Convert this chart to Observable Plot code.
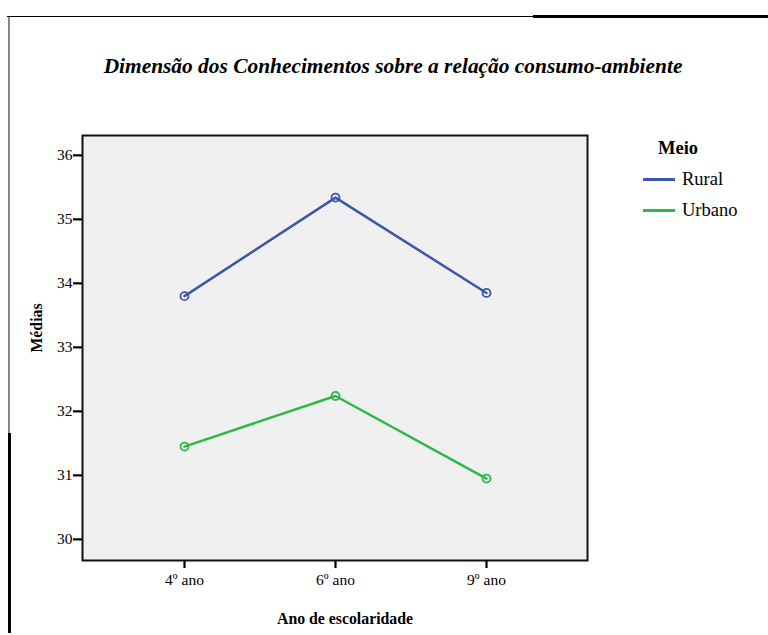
<!DOCTYPE html>
<html>
<head>
<meta charset="utf-8">
<script src="https://cdn.jsdelivr.net/npm/d3@7"></script>
<script src="https://cdn.jsdelivr.net/npm/@observablehq/plot@0.6"></script>
<style>
  html, body { margin: 0; padding: 0; background: #fff; }
  #wrap { position: relative; width: 768px; height: 635px; overflow: hidden; font-family: "Liberation Serif", "Times New Roman", serif; }
  #wrap svg text { font-family: "Liberation Serif", "Times New Roman", serif; }
  .abs { position: absolute; white-space: nowrap; color: #000; }
  .c { transform: translate(-50%, -50%); }
  #title { left: 393px; top: 66px; font-size: 21.4px; font-weight: bold; font-style: italic; }
  #xlabel { left: 345px; top: 619px; font-size: 15.8px; font-weight: bold; }
  #ylabel { left: 37px; top: 328px; font-size: 15.8px; font-weight: bold; transform: translate(-50%, -50%) rotate(-90deg); }
  #legtitle { left: 678px; top: 148px; font-size: 18.5px; font-weight: bold; }
  .legitem { left: 643px; height: 20px; }
  .legitem .sw { position: absolute; left: 0; top: 9px; width: 32px; height: 2.5px; }
  .legitem .lb { position: absolute; left: 39px; top: 0px; font-size: 18.5px; }
  #bl { position: absolute; left: 8px; top: 16px; width: 1.5px; height: 417px; background: #888; }
  #bl2 { position: absolute; left: 8px; top: 433px; width: 2.5px; height: 200px; background: #000; }
  #bt { position: absolute; left: 7px; top: 15.5px; width: 528px; height: 1.5px; background: #000; }
  #bt2 { position: absolute; left: 533px; top: 15px; width: 235px; height: 2.5px; background: #000; }
</style>
</head>
<body>
<div id="wrap"></div>
<script>
const years = ["4º ano", "6º ano", "9º ano"];
const rural = [33.80, 35.34, 33.85];
const urbano = [31.45, 32.24, 30.95];
const yTicks = [30, 31, 32, 33, 34, 35, 36];
const seriesNames = ["Rural", "Urbano"];
const seriesColors = ["#3d56a8", "#2fb84a"];

const data = [];
years.forEach((y, i) => {
  data.push({ano: y, meio: seriesNames[0], media: rural[i]});
  data.push({ano: y, meio: seriesNames[1], media: urbano[i]});
});

const chart = Plot.plot({
  width: 768,
  height: 635,
  marginLeft: 82,
  marginRight: 181,
  marginTop: 135,
  marginBottom: 75,
  style: {fontFamily: "'Liberation Serif', 'Times New Roman', serif", fontSize: "15px", background: "transparent", color: "#000"},
  x: {type: "point", domain: years, padding: 0.665, label: null},
  y: {domain: [29.67, 36.31], label: null},
  color: {domain: seriesNames, range: seriesColors},
  marks: [
    Plot.frame({fill: "#f0f0f0", stroke: null}),
    Plot.axisY({ticks: yTicks, tickSize: 9, tickPadding: 1, strokeWidth: 2.2, stroke: "#000", tickFormat: d => String(d), fontSize: 15.5, label: null}),
    Plot.axisX({tickSize: 8, tickPadding: 5, strokeWidth: 2.2, stroke: "#000", fontSize: 15.5, label: null}),
    Plot.line(data, {x: "ano", y: "media", z: "meio", stroke: "meio", strokeWidth: 2.5}),
    Plot.dot(data, {x: "ano", y: "media", stroke: "meio", r: 4, strokeWidth: 1.8, fill: "none"}),
    Plot.frame({stroke: "#111", strokeWidth: 2})
  ]
});

const wrap = document.getElementById("wrap");
chart.style.position = "absolute";
chart.style.left = "0px";
chart.style.top = "0px";
wrap.appendChild(chart);

function addDiv(id, cls, text) {
  const d = document.createElement("div");
  if (id) d.id = id;
  d.className = cls;
  if (text != null) d.textContent = text;
  wrap.appendChild(d);
  return d;
}
addDiv("bl", "", null);
addDiv("bl2", "", null);
addDiv("bt", "", null);
addDiv("bt2", "", null);
addDiv("title", "abs c", "Dimensão dos Conhecimentos sobre a relação consumo-ambiente");
addDiv("xlabel", "abs c", "Ano de escolaridade");
addDiv("ylabel", "abs", "Médias");
addDiv("legtitle", "abs c", "Meio");
const legTops = [169, 200];
seriesNames.forEach((n, i) => {
  const it = addDiv(null, "abs legitem", null);
  it.style.top = legTops[i] + "px";
  const sw = document.createElement("div");
  sw.className = "sw";
  sw.style.background = seriesColors[i];
  it.appendChild(sw);
  const lb = document.createElement("div");
  lb.className = "lb";
  lb.textContent = n;
  it.appendChild(lb);
});
</script>
</body>
</html>
